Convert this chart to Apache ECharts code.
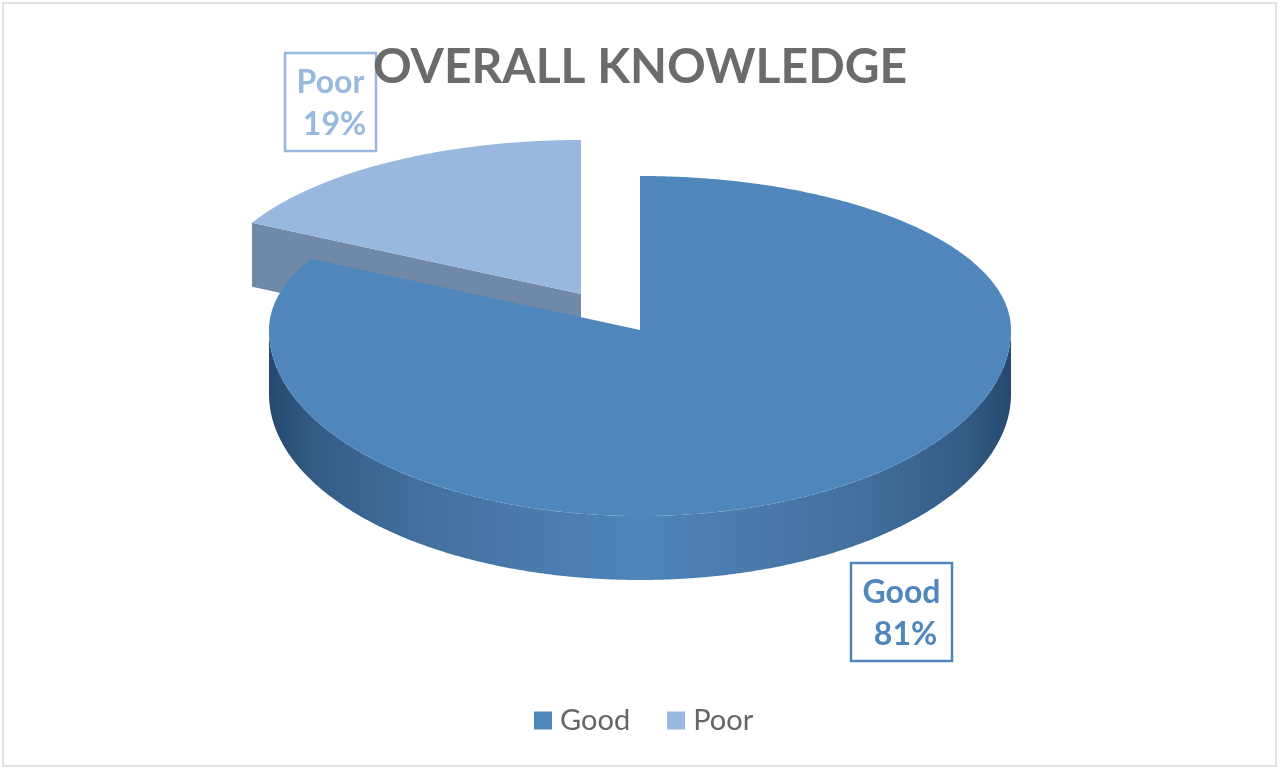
<!DOCTYPE html>
<html><head><meta charset="utf-8">
<style>html,body{margin:0;padding:0;background:#fff}#c{width:1280px;height:771px}</style>
<script src="https://cdn.jsdelivr.net/npm/echarts@6/dist/echarts.min.js"></script>
</head><body><div id="c"></div>
<script>
const titleText = 'OVERALL KNOWLEDGE';
const categories = ['Good', 'Poor'];
const values = [81, 19];
const font = 'Lato, "Open Sans", sans-serif';

// Drawing view of the tilted disc (not data)
const view = {cx: 640, cy: 330, rx: 371, ryBack: 154, ryFront: 186, squeeze: 0.76, depth: 64};
const explode = {Good: [0, 0], Poor: [-59, -36]};
const topColor = {Good: '#4f87bc', Poor: '#98b8df'};
const labelBox = {Good: [851, 563, 101, 98], Poor: [285, 53, 91, 98]};
const labelPos = {Good: [[901.5, 593], [905.5, 635]], Poor: [[330.5, 83], [334.5, 125]]};

const total = values.reduce((a, b) => a + b, 0);
function project(deg, off) {
  const t = deg * Math.PI / 180;
  const a = Math.atan2(Math.sin(t) * view.squeeze, Math.cos(t));
  const u = Math.sin(a), v = -Math.cos(a);
  const ry = v < 0 ? view.ryBack : view.ryFront;
  return [view.cx + view.rx * u + off[0], view.cy + ry * v + off[1]];
}
function rim(from, to, off) {
  const pts = [];
  const n = Math.max(2, Math.ceil(Math.abs(to - from) * 2));
  for (let i = 0; i <= n; i++) pts.push(project(from + (to - from) * i / n, off));
  return pts;
}
function sliceRange(name) {
  let start = 0;
  for (let i = 0; i < categories.length; i++) {
    const span = values[i] / total * 360;
    if (categories[i] === name) return [start, start + span];
    start += span;
  }
}
const wallGradient = {
  type: 'linear', x: 269, y: 0, x2: 1011, y2: 0, global: true,
  colorStops: [
    {offset: 0, color: '#26496e'}, {offset: 0.06, color: '#335c86'},
    {offset: 0.2, color: '#426f9e'}, {offset: 0.5, color: '#4f85ba'},
    {offset: 0.8, color: '#426f9e'}, {offset: 0.94, color: '#335c86'},
    {offset: 1, color: '#26496e'}
  ]
};
function renderSlice(name) {
  return function () {
    const [a0, a1] = sliceRange(name);
    const off = explode[name];
    const apex = [view.cx + off[0], view.cy + off[1]];
    const children = [];
    if (name === 'Good') {
      const top = rim(90, 270, off);
      const bot = rim(270, 90, [off[0], off[1] + view.depth]);
      children.push({type: 'polygon', shape: {points: top.concat(bot)}, style: {fill: wallGradient}});
    } else {
      const e = project(a0, off);
      children.push({type: 'polygon', shape: {points: [
        e, apex, [apex[0], apex[1] + view.depth], [e[0], e[1] + view.depth]
      ]}, style: {fill: '#7089a8'}});
    }
    children.push({type: 'polygon', shape: {points: [apex].concat(rim(a0, a1, off))},
      style: {fill: topColor[name]}});
    const b = labelBox[name];
    children.push({type: 'rect', shape: {x: b[0], y: b[1], width: b[2], height: b[3]},
      style: {fill: 'transparent', stroke: topColor[name], lineWidth: 2.5}, z2: 20});
    const val = values[categories.indexOf(name)];
    [name, val + '%'].forEach((t, i) => children.push({type: 'text', z2: 21, style: {
      x: labelPos[name][i][0], y: labelPos[name][i][1], text: t, fill: topColor[name],
      font: 'bold 32px ' + font, textAlign: 'center', textVerticalAlign: 'middle'}}));
    return {type: 'group', children};
  };
}
const chart = echarts.init(document.getElementById('c'), null, {renderer: 'canvas'});
chart.setOption({
  animation: false,
  backgroundColor: '#fff',
  title: {text: titleText, left: 'center', top: 39,
    textStyle: {fontFamily: font, fontWeight: 'bold', fontSize: 48, color: '#6b6b6b'}},
  legend: {data: categories, left: 529, top: 701, icon: 'rect', itemWidth: 18, itemHeight: 18, itemGap: 37,
    textStyle: {fontFamily: font, fontSize: 29, color: '#666666', padding: [0, 0, 0, 3]}},
  graphic: [{type: 'rect', shape: {x: 3, y: 3, width: 1273, height: 763},
    style: {fill: 'transparent', stroke: '#e2e2e2', lineWidth: 2}}],
  series: ['Poor', 'Good'].map(name => ({
    type: 'custom', name, coordinateSystem: 'none', silent: true,
    itemStyle: {color: topColor[name]},
    data: [[values[categories.indexOf(name)]]],
    renderItem: renderSlice(name)
  }))
});
</script></body></html>
